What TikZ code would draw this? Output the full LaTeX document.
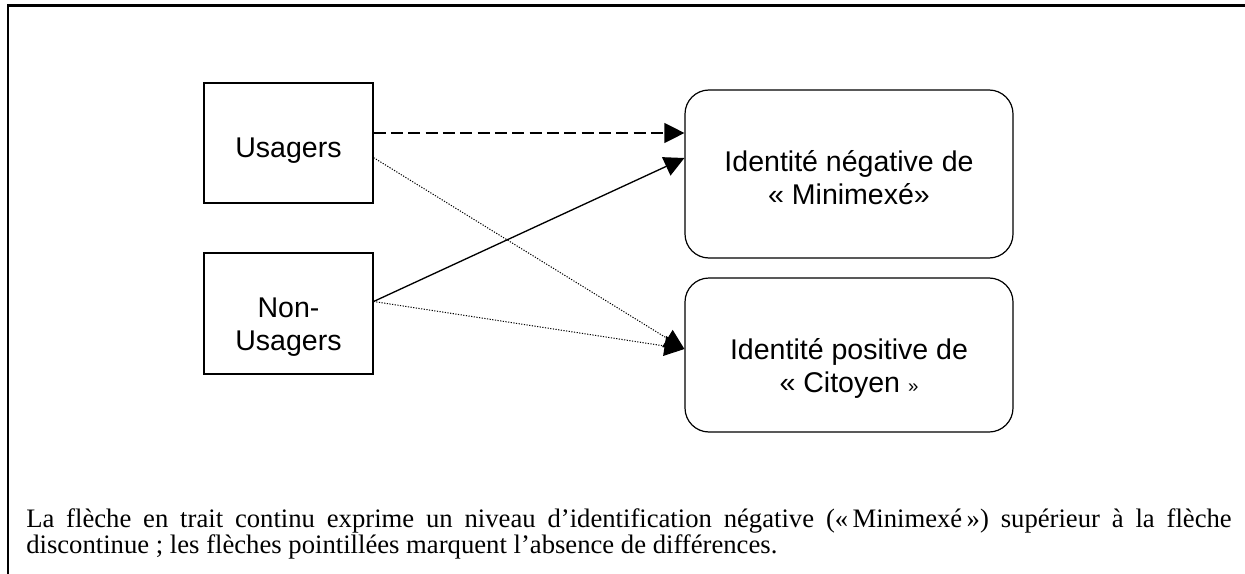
\documentclass[tikz,border=0pt]{standalone}
\usepackage{fontspec}
\setmainfont{Liberation Serif}
\setsansfont{Liberation Sans}
\usepackage{tikz}
\usetikzlibrary{shapes, arrows.meta, positioning}
\hyphenpenalty=10000

\begin{document}
\begin{tikzpicture}[x=0.75pt, y=-0.75pt,
            groupbox/.style={draw, line width=0.9pt, rectangle, minimum width=126.75pt, minimum height=90pt},
            idbox/.style={draw, line width=0.9pt, rectangle, rounded corners=18pt, minimum width=246pt},
            boxtext/.style={align=center, inner sep=0pt, font=\sffamily\fontsize{21.4}{24.75}\selectfont},
            arrow/.style={-{Triangle[length=15pt, width=15pt]}, line width=1pt},
            dasharrow/.style={arrow, dash pattern=on 9pt off 4pt},
            dotarrow/.style={arrow, line width=0.75pt, dash pattern=on 0.9pt off 1.1pt}]

            \useasboundingbox (0,0) rectangle (1245,574);

            % frame
            \draw[line width=1.6pt] (8.3,574) -- (8.3,5.5) -- (1245,5.5);

            \node[groupbox] (usagers) at (288.5,143) {};
            \node[groupbox, minimum height=90.75pt] (nonusagers) at (288.5,313.5) {};
            \node[idbox, minimum height=126pt] (negative) at (849,174) {};
            \node[idbox, minimum height=115.5pt] (positive) at (849,355) {};

            \node[boxtext] (usagerstext) at ([yshift=-6pt]usagers.center) {Usagers};
            \node[boxtext] (nonusagerstext) at ([yshift=-10pt]nonusagers.center) {Non-\\Usagers};
            \node[boxtext] (negativetext) at ([yshift=-3pt]negative.center) {Identité négative de\\« Minimexé»};
            \node[boxtext] (positivetext) at ([yshift=-10pt]positive.center) {Identité positive de\\« Citoyen {\fontsize{14}{14}\selectfont »}};

            \draw[dasharrow] ([yshift=7.5pt]usagers.east) -- ([yshift=7.5pt]usagers.east -| negative.west);
            \draw[arrow] ([yshift=9pt]nonusagers.east) -- ([yshift=12pt]negative.west);
            \draw[dotarrow] ([yshift=-11pt]usagers.east) -- ([yshift=4.5pt]positive.west);
            \draw[dotarrow] ([yshift=9pt]nonusagers.east) -- ([yshift=4.5pt]positive.west);

            \node[anchor=base west, inner sep=0pt, text width=904pt, align=justify,
              font=\fontsize{20}{19.5}\selectfont] (caption) at (26,527)
              {La flèche en trait continu exprime un niveau d’identification négative («\,Minimexé\,») supérieur à la flèche discontinue~; les flèches pointillées marquent l’absence de différences.};
        \end{tikzpicture}
\end{document}
